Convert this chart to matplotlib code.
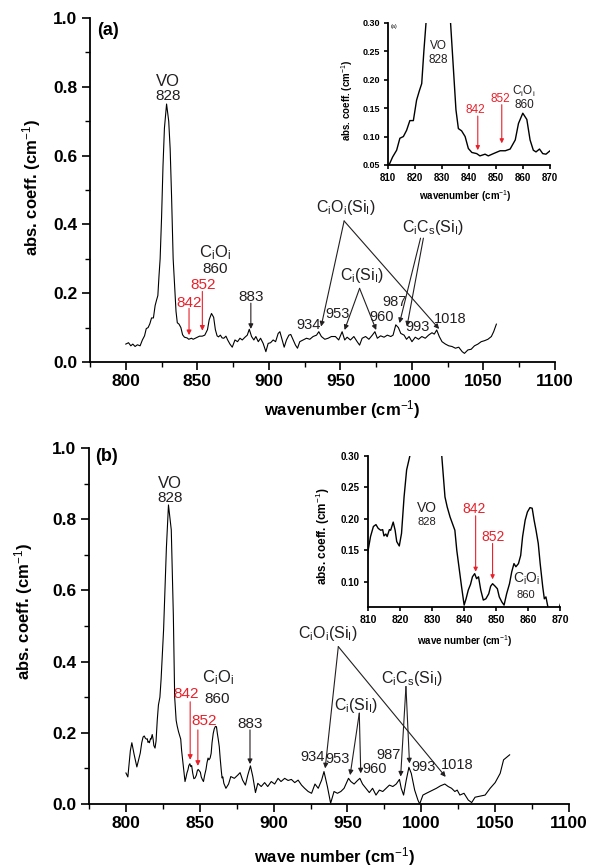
import numpy as np
import matplotlib.pyplot as plt
from matplotlib.ticker import MultipleLocator

plt.rcParams['font.family'] = ['Liberation Sans', 'DejaVu Sans']
plt.rcParams['mathtext.fontset'] = 'custom'
plt.rcParams['mathtext.rm'] = 'Liberation Sans'
plt.rcParams['mathtext.it'] = 'Liberation Sans:italic'
plt.rcParams['mathtext.bf'] = 'Liberation Sans:bold'

RED = '#e8202a'
INK = '#231f20'

# panel (a) spectrum (wavenumber, abs. coeff.)
wn_a = [800, 801.9, 803.5, 804.9, 806.5, 808.1, 810, 811.6, 813.1, 814.3, 815.6, 816.8, 818.0, 819.3,
        820.5, 821.5, 822.4, 823.2, 824.0, 825.0, 826.0, 827.0, 828.5, 830.0, 831.0, 832.0, 833.1, 834.1,
        835.1, 836.0, 837.2, 838.5, 839.7, 841.0, 842.8, 844.0, 845.9, 847.1, 849.0, 851.5, 853.4, 855.2,
        857.1, 858.3, 859.9, 861.4, 862.6, 863.8, 864.8, 866.1, 867.3, 868.5, 870.0, 871.2, 872.8, 874.4,
        876.3, 878.1, 879.8, 881.4, 883.3, 884.9, 886.3, 887.9, 889.5, 890.9, 892.6, 894.2, 896.0, 897.9,
        899.5, 901.2, 903.0, 904.7, 906.5, 907.7, 909.3, 910.7, 912.3, 914.0, 915.3, 917.0, 918.6, 920.0,
        921.6, 923.9, 926.3, 928.6, 930.9, 933.3, 934.9, 936.7, 939.1, 941.4, 943.7, 946.5, 948.8, 951.2,
        953.0, 954.7, 957.0, 959.4, 961.7, 963.4, 965.2, 967.6, 969.9, 972.3, 974.1, 975.8, 978.1, 980.5,
        982.8, 985.2, 986.8, 988.7, 990.5, 992.2, 994.5, 996.2, 998.0, 1000.0, 1002.3, 1004.6, 1006.9,
        1009.3, 1011.6, 1014.0, 1015.6, 1017.3, 1019.1, 1021.0, 1023.4, 1025.7, 1028.0, 1030.4, 1032.7,
        1035.1, 1036.7, 1039.1, 1041.4, 1043.7, 1046.1, 1048.4, 1050.8, 1053.1, 1055.5, 1057.1, 1059.0]
ab_a = [0.052, 0.056, 0.047, 0.052, 0.045, 0.050, 0.047, 0.064, 0.076, 0.097, 0.100, 0.111, 0.128, 0.128,
        0.164, 0.180, 0.193, 0.250, 0.300, 0.420, 0.570, 0.680, 0.750, 0.700, 0.620, 0.480, 0.300, 0.223,
        0.147, 0.114, 0.110, 0.100, 0.079, 0.072, 0.070, 0.066, 0.069, 0.066, 0.070, 0.075, 0.075, 0.078,
        0.094, 0.123, 0.141, 0.130, 0.094, 0.076, 0.073, 0.078, 0.070, 0.069, 0.075, 0.064, 0.052, 0.043,
        0.064, 0.059, 0.069, 0.064, 0.072, 0.078, 0.095, 0.074, 0.064, 0.074, 0.059, 0.069, 0.054, 0.030,
        0.054, 0.056, 0.064, 0.059, 0.083, 0.088, 0.064, 0.043, 0.064, 0.078, 0.080, 0.064, 0.049, 0.040,
        0.059, 0.064, 0.069, 0.066, 0.074, 0.078, 0.088, 0.074, 0.066, 0.069, 0.074, 0.074, 0.064, 0.088,
        0.064, 0.072, 0.064, 0.074, 0.059, 0.049, 0.069, 0.074, 0.066, 0.078, 0.088, 0.069, 0.076, 0.072,
        0.078, 0.074, 0.078, 0.108, 0.100, 0.083, 0.078, 0.066, 0.074, 0.059, 0.072, 0.066, 0.074,
        0.069, 0.078, 0.085, 0.081, 0.093, 0.074, 0.059, 0.052, 0.047, 0.045, 0.040, 0.043,
        0.030, 0.025, 0.035, 0.037, 0.047, 0.052, 0.059, 0.062, 0.066, 0.074, 0.088, 0.110]

# panel (b) spectrum
wn_b = [800, 801.3, 803, 804, 805.5, 807.4, 809.7, 810.7, 811.6, 812.4, 813.1, 813.9, 814.5, 814.9, 815.5,
        815.9, 816.6, 817.0, 817.8, 818.4, 818.9, 819.7, 820.4, 821.2, 822.0, 823.0, 823.8, 825.5, 827.4,
        828.8, 830.7, 832.1, 833.0, 833.5, 834.0, 834.7, 835.6, 836.4, 837.1, 837.7, 838.5, 839.2, 840.0,
        840.6, 841.3, 842.0, 842.6, 843.3, 843.9, 844.5, 845.2, 846.0, 846.8, 847.7, 848.3, 848.9, 849.7,
        850.4, 851.0, 851.8, 852.5, 853.3, 854.2, 854.9, 855.6, 856.2, 857.0, 857.7, 858.3, 859.1, 859.8,
        860.6, 861.3, 861.9, 862.5, 863.2, 863.8, 864.6, 865.1, 865.6, 866.3, 867.7, 869.5, 871, 873.4,
        875.7, 877.3, 879, 880.9, 882.5, 884.3, 885.9, 887.7, 889.3, 891.6, 893.9, 896, 898.4, 900.7, 903,
        905, 907.5, 909.8, 912, 914.3, 916.6, 918.9, 921, 923.4, 925.7, 928, 930.2, 932.5, 934.1, 936.4,
        938.6, 940.9, 943.2, 945.5, 947.7, 950.7, 952.3, 954.5, 956.8, 958.4, 960.2, 962.5, 964.8, 967.0,
        969.3, 971.6, 973.9, 976.1, 978.4, 980.7, 983.0, 985.2, 986.4, 988.0, 989.8, 991.6, 993.2, 995.5,
        997.7, 998.9, 1001.1, 1003.4, 1006.8, 1010.2, 1013.0, 1015.9, 1018.2, 1020.5, 1022.7, 1024.3,
        1026.1, 1028.9, 1031.8, 1034.1, 1036.4, 1039.8, 1043.2, 1046.6, 1050.0, 1053.4, 1055.7, 1059.8]
ab_b = [0.087, 0.076, 0.150, 0.172, 0.140, 0.104, 0.143, 0.172, 0.188, 0.191, 0.185, 0.182, 0.183, 0.173,
        0.176, 0.172, 0.183, 0.182, 0.195, 0.182, 0.164, 0.157, 0.177, 0.235, 0.278, 0.300, 0.350, 0.490,
        0.720, 0.840, 0.770, 0.530, 0.300, 0.267, 0.235, 0.219, 0.203, 0.192, 0.182, 0.150, 0.119, 0.092,
        0.063, 0.073, 0.087, 0.096, 0.108, 0.113, 0.105, 0.108, 0.087, 0.071, 0.073, 0.081, 0.093, 0.097,
        0.093, 0.089, 0.076, 0.068, 0.063, 0.081, 0.097, 0.116, 0.129, 0.124, 0.129, 0.142, 0.172, 0.198,
        0.211, 0.218, 0.217, 0.198, 0.182, 0.161, 0.129, 0.092, 0.073, 0.076, 0.058, 0.044, 0.056, 0.077,
        0.072, 0.081, 0.088, 0.067, 0.053, 0.081, 0.107, 0.077, 0.032, 0.058, 0.049, 0.060, 0.049, 0.063,
        0.056, 0.072, 0.063, 0.072, 0.066, 0.069, 0.060, 0.067, 0.053, 0.044, 0.035, 0.030, 0.056, 0.044,
        0.067, 0.091, 0.049, 0.002, 0.035, 0.030, 0.035, 0.044, 0.072, 0.063, 0.056, 0.066, 0.072, 0.056,
        0.044, 0.032, 0.044, 0.025, 0.039, 0.035, 0.044, 0.053, 0.049, 0.056, 0.069, 0.044, 0.025, 0.067,
        0.103, 0.086, 0.039, 0.011, 0.000, 0.025, 0.030, 0.037, 0.044, 0.051, 0.056, 0.049, 0.044, 0.035,
        0.039, 0.025, 0.030, 0.011, 0.004, 0.019, 0.022, 0.025, 0.044, 0.060, 0.086, 0.124, 0.138]

sub_i = r'$_{\rm i}$'
sub_s = r'$_{\rm s}$'
sub_I = r'$_{\rm I}$'
CIOI = 'C' + sub_i + 'O' + sub_i
CIOI_SI = CIOI + '(Si' + sub_I + ')'
CICS_SI = 'C' + sub_i + 'C' + sub_s + '(Si' + sub_I + ')'
CI_SI = 'C' + sub_i + '(Si' + sub_I + ')'
CM = r'(cm$^{\rm{-}1}$)'
YLAB = 'abs. coeff. ' + CM

fig = plt.figure(figsize=(5.97, 8.67), dpi=100)


def style_axes(ax, xmaj, ymaj, xmin=None, ymin=None, size=12.5, major=6, minor=3.5, ysize=None):
    ax.spines[['top', 'right']].set_visible(False)
    for s in ['left', 'bottom']:
        ax.spines[s].set_linewidth(1.3)
    ax.xaxis.set_major_locator(MultipleLocator(xmaj))
    ax.yaxis.set_major_locator(MultipleLocator(ymaj))
    if xmin:
        ax.xaxis.set_minor_locator(MultipleLocator(xmin))
    if ymin:
        ax.yaxis.set_minor_locator(MultipleLocator(ymin))
    ax.tick_params(which='major', direction='out', length=major, width=1.2, labelsize=size, pad=3)
    ax.tick_params(which='minor', direction='out', length=minor, width=1.0)
    if ysize:
        ax.tick_params(axis='y', labelsize=ysize)
    for lbl in ax.get_xticklabels() + ax.get_yticklabels():
        lbl.set_fontweight('bold')


def arrow(ax, tail, tip, color=INK, lw=0.8, ms=7):
    ax.annotate('', xy=tip, xytext=tail,
                arrowprops=dict(arrowstyle='-|>', color=color, lw=lw, mutation_scale=ms,
                                shrinkA=0, shrinkB=0))


def label(ax, x, y, s, fs=10.5, color=INK):
    ax.text(x, y, s, fontsize=fs, color=color, ha='center', va='baseline')


# ---------------- panel (a) ----------------
ax = fig.add_axes([0.1508, 0.5825, 0.7789, 0.3967])
ax.plot(wn_a, ab_a, color='black', lw=0.8)
ax.set_xlim(775, 1100)
ax.set_ylim(0, 1.0)
style_axes(ax, 50, 0.2, 25, 0.1)
ax.set_xlabel('wavenumber ' + CM, fontsize=12, fontweight='bold')
ax.xaxis.set_label_coords(0.542, -0.105)
ax.set_ylabel(YLAB, fontsize=12, fontweight='bold')
ax.yaxis.set_label_coords(-0.101, 0.506)
ax.text(0.015, 0.965, '(a)', transform=ax.transAxes, fontsize=13, fontweight='bold', va='center')

label(ax, 829.5, 0.802, 'VO', 12)
label(ax, 829.5, 0.762, '828', 11)
label(ax, 862.6, 0.305, CIOI, 12)
label(ax, 862.3, 0.259, '860', 11)
label(ax, 854, 0.211, '852', 11, RED)
label(ax, 844, 0.161, '842', 11, RED)
label(ax, 887.8, 0.178, '883', 11)
label(ax, 953.6, 0.437, CIOI_SI, 11.5)
label(ax, 1015, 0.379, CICS_SI, 11.5)
label(ax, 965, 0.238, CI_SI, 11.5)
label(ax, 927.8, 0.095, '934')
label(ax, 947.8, 0.129, '953')
label(ax, 979, 0.120, '960')
label(ax, 987.5, 0.163, '987')
label(ax, 1004, 0.091, '993')
label(ax, 1027, 0.114, '1018')

arrow(ax, (844.2, 0.156), (844.2, 0.078), RED)
arrow(ax, (853.5, 0.205), (853.5, 0.091), RED)
arrow(ax, (887.4, 0.171), (887.4, 0.096))
arrow(ax, (952.6, 0.41), (936.5, 0.103))
arrow(ax, (952.6, 0.41), (1019, 0.096))
arrow(ax, (1006, 0.36), (991.3, 0.113))
arrow(ax, (1008, 0.36), (996.5, 0.103))
arrow(ax, (963.4, 0.214), (952.9, 0.093))
arrow(ax, (963.4, 0.214), (975, 0.093))

# inset (a)
ins = fig.add_axes([0.6504, 0.8097, 0.2709, 0.1641])
ins.plot(wn_a, ab_a, color='black', lw=1.0)
ins.set_xlim(810, 870)
ins.set_ylim(0.05, 0.30)
style_axes(ins, 10, 0.05, size=7, major=3, ysize=6.5)
ins.set_xlabel('wavenumber ' + CM, fontsize=7, fontweight='bold')
ins.xaxis.set_label_coords(0.474, -0.16)
ins.set_ylabel(YLAB, fontsize=7, fontweight='bold')
ins.yaxis.set_label_coords(-0.205, 0.457)
ins.text(810.8, 0.29, '(a)', fontsize=4)
label(ins, 828.6, 0.253, 'VO', 8.5)
label(ins, 828.6, 0.229, '828', 8.5)
label(ins, 842.4, 0.141, '842', 8.5, RED)
label(ins, 851.5, 0.161, '852', 8.5, RED)
label(ins, 860.4, 0.173, CIOI, 8.5)
label(ins, 860.4, 0.150, '860', 8.5)
arrow(ins, (843.2, 0.136), (843.2, 0.076), RED, 0.8, 6)
arrow(ins, (852.1, 0.156), (852.1, 0.088), RED, 0.8, 6)

# ---------------- panel (b) ----------------
ax = fig.add_axes([0.1491, 0.0727, 0.8040, 0.4106])
ax.plot(wn_b, ab_b, color='black', lw=0.8)
ax.set_xlim(775, 1100)
ax.set_ylim(0, 1.0)
style_axes(ax, 50, 0.2, 25, 0.1)
ax.set_xlabel('wave number ' + CM, fontsize=12, fontweight='bold')
ax.xaxis.set_label_coords(0.5125, -0.115)
ax.set_ylabel(YLAB, fontsize=12, fontweight='bold')
ax.yaxis.set_label_coords(-0.1125, 0.54)
ax.text(0.0125, 0.975, '(b)', transform=ax.transAxes, fontsize=13, fontweight='bold', va='center')

label(ax, 830, 0.887, 'VO', 12)
label(ax, 830, 0.849, '828', 11)
label(ax, 862.5, 0.341, CIOI, 12)
label(ax, 862, 0.285, '860', 11)
label(ax, 840.8, 0.297, '842', 11, RED)
label(ax, 853, 0.222, '852', 11, RED)
label(ax, 884.2, 0.213, '883', 11)
label(ax, 937, 0.466, CIOI_SI, 11.5)
label(ax, 993.7, 0.341, CICS_SI, 11.5)
label(ax, 955.6, 0.264, CI_SI, 11.5)
label(ax, 926.4, 0.121, '934')
label(ax, 943.6, 0.114, '953')
label(ax, 968.7, 0.088, '960')
label(ax, 978, 0.125, '987')
label(ax, 1001.8, 0.093, '993')
label(ax, 1024, 0.097, '1018')

arrow(ax, (843.5, 0.287), (843.5, 0.124), RED)
arrow(ax, (848.7, 0.208), (848.7, 0.107), RED)
arrow(ax, (884, 0.208), (884, 0.112))
arrow(ax, (943.8, 0.442), (934.9, 0.10))
arrow(ax, (943.8, 0.442), (1016.5, 0.076))
arrow(ax, (989.6, 0.33), (986, 0.077))
arrow(ax, (989.6, 0.33), (992, 0.114))
arrow(ax, (958, 0.255), (951.8, 0.081))
arrow(ax, (958, 0.255), (959, 0.086))

# inset (b)
ins = fig.add_axes([0.6169, 0.2999, 0.3211, 0.1741])
ins.plot(wn_b, ab_b, color='black', lw=1.0)
ins.set_xlim(810, 870)
ins.set_ylim(0.06, 0.30)
style_axes(ins, 10, 0.05, size=7.5, major=3, ysize=7)
ins.set_yticks([0.10, 0.15, 0.20, 0.25, 0.30])
for lbl in ins.get_yticklabels():
    lbl.set_fontweight('bold')
ins.set_xlabel('wave number ' + CM, fontsize=7, fontweight='bold')
ins.xaxis.set_label_coords(0.504, -0.172)
ins.set_ylabel(YLAB, fontsize=8.5, fontweight='bold')
ins.yaxis.set_label_coords(-0.19, 0.47)
label(ins, 828.3, 0.211, 'VO', 10)
label(ins, 828.3, 0.190, '828', 8)
label(ins, 843.2, 0.210, '842', 10, RED)
label(ins, 848.9, 0.165, '852', 10, RED)
label(ins, 859.4, 0.098, CIOI, 10)
label(ins, 859.2, 0.0735, '860', 8)
arrow(ins, (843.6, 0.205), (843.6, 0.116), RED, 0.8, 6)
arrow(ins, (848.9, 0.161), (848.9, 0.104), RED, 0.8, 6)

plt.savefig('out.png', dpi=100)
